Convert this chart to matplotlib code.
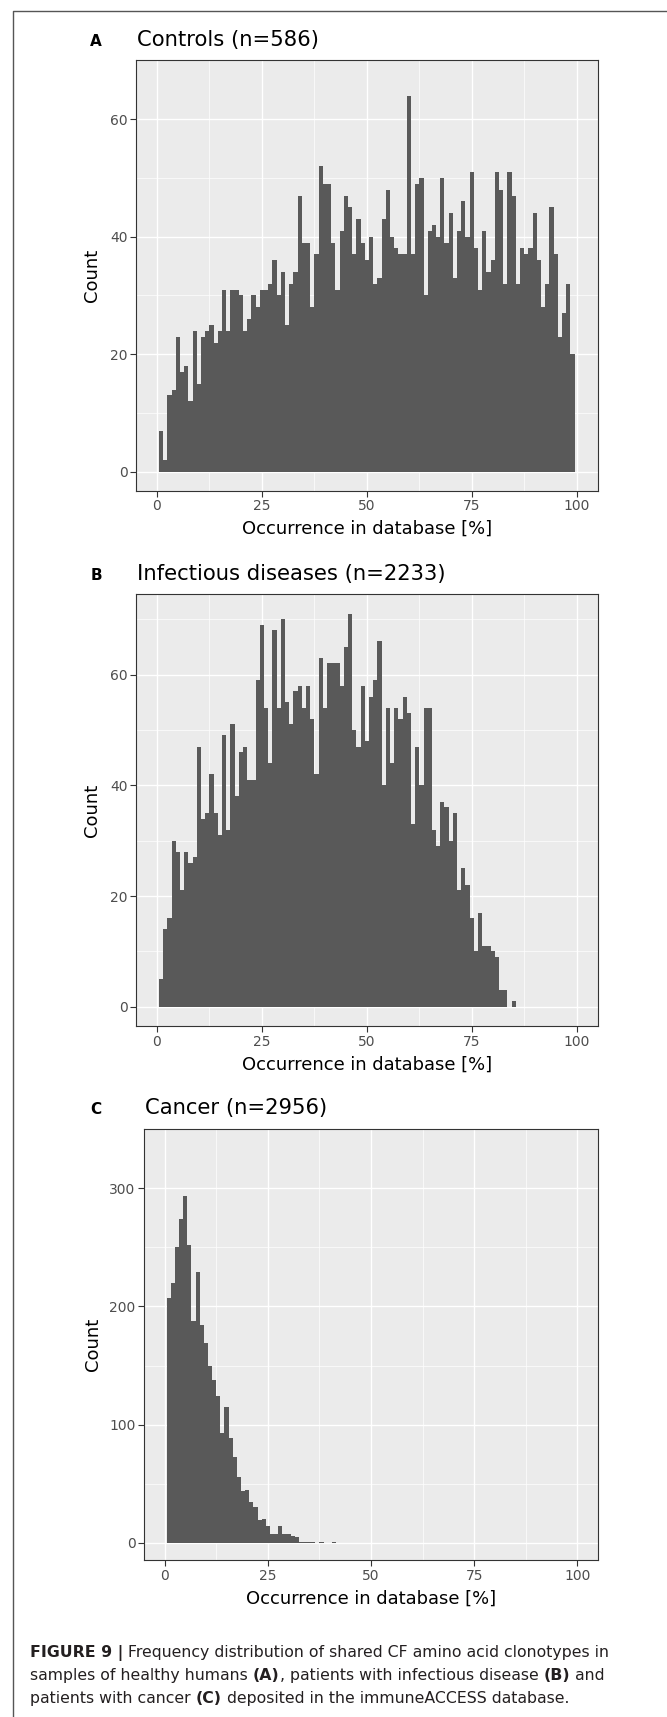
import numpy as np
import matplotlib
matplotlib.use("Agg")
import matplotlib.pyplot as plt
from matplotlib.lines import Line2D

# ---------------- data (counts per 1 % bin, bin centres 1, 2, 3, ...) ----------------
controls_counts = [7, 2, 13, 14, 23, 17, 18, 12, 24, 15,
                   23, 24, 25, 22, 24, 31, 24, 31, 31, 30,
                   24, 26, 30, 28, 31, 31, 32, 36, 30, 34,
                   25, 32, 34, 47, 39, 39, 28, 37, 52, 49,
                   49, 39, 31, 41, 47, 45, 37, 43, 39, 36,
                   40, 32, 33, 43, 48, 40, 38, 37, 37, 64,
                   37, 49, 50, 30, 41, 42, 40, 50, 39, 44,
                   33, 41, 46, 40, 51, 38, 31, 41, 34, 36,
                   51, 48, 32, 51, 47, 32, 38, 37, 38, 44,
                   36, 28, 32, 45, 37, 23, 27, 32, 20]
infect_counts = [5, 14, 16, 30, 28, 21, 28, 26, 27, 47,
                 34, 35, 42, 35, 31, 49, 32, 51, 38, 46,
                 47, 41, 41, 59, 69, 54, 44, 68, 54, 70,
                 55, 51, 57, 58, 54, 58, 52, 42, 63, 54,
                 62, 62, 62, 58, 65, 71, 50, 47, 58, 48,
                 56, 59, 66, 40, 54, 44, 54, 52, 56, 53,
                 33, 47, 40, 54, 54, 32, 29, 37, 36, 30,
                 35, 21, 25, 22, 16, 10, 17, 11, 11, 10,
                 9, 3, 3, 0, 1]
cancer_counts = [207, 220, 250, 274, 293, 252, 188, 229, 184, 169,
                 150, 138, 124, 93, 115, 89, 73, 56, 44, 45,
                 35, 30, 19, 20, 14, 8, 8, 14, 8, 8,
                 6, 5, 1, 1, 1, 1, 0, 1, 0, 0,
                 1]

panel_letters = ["A", "B", "C"]
panel_titles = ["Controls (n=586)", "Infectious diseases (n=2233)", "Cancer (n=2956)"]
y_ticks = [[0, 20, 40, 60], [0, 20, 40, 60], [0, 100, 200, 300]]
x_ticks = [0, 25, 50, 75, 100]
x_label = "Occurrence in database [%]"
y_label = "Count"

# ---------------- figure ----------------
W, H = 667, 1717
fig = plt.figure(figsize=(W / 100, H / 100), dpi=100)
fig.patch.set_facecolor("white")


def add_axes(l, t, r, b):
    return fig.add_axes([l / W, 1 - b / H, (r - l) / W, (b - t) / H])


# pixel boxes (left, top, right, bottom)
boxes = [(136, 60.3, 597.7, 490.7),
         (136, 594.0, 597.7, 1026.4),
         (144, 1129.0, 598.0, 1560.3)]
ylabel_x = [-0.096, -0.096, -0.112]
title_base = [46, 580, 1114]

all_counts = [controls_counts, infect_counts, cancer_counts]

for i, counts in enumerate(all_counts):
    l, t, r, b = boxes[i]
    ax = add_axes(l, t, r, b)
    ax.set_facecolor("#EBEBEB")
    counts = np.asarray(counts, dtype=float)
    centres = np.arange(1, len(counts) + 1)
    edges = np.append(centres - 0.5, centres[-1] + 0.5)
    ax.stairs(counts, edges, fill=True, color="#595959", baseline=0, linewidth=0)

    ymax = counts.max()
    ax.set_xlim(-5, 105)
    ax.set_ylim(-0.05 * ymax, 1.05 * ymax)

    ax.set_xticks(x_ticks)
    ax.set_xticks([12.5, 37.5, 62.5, 87.5], minor=True)
    yt = y_ticks[i]
    ax.set_yticks(yt)
    step = yt[1] - yt[0]
    ax.set_yticks([v + step / 2 for v in yt], minor=True)
    ax.grid(which="major", color="white", linewidth=1.0)
    ax.grid(which="minor", color="white", linewidth=0.5)
    ax.set_axisbelow(True)

    ax.tick_params(which="major", length=4, width=0.8, color="#333333",
                   labelcolor="#4D4D4D", labelsize=10, pad=2)
    ax.tick_params(which="minor", length=0)
    for s in ax.spines.values():
        s.set_color("#333333")
        s.set_linewidth(0.8)

    ax.set_xlabel(x_label, fontsize=12.9, color="black")
    ax.xaxis.label.set_va("center")
    ax.xaxis.set_label_coords(0.5, -38.5 / (b - t))
    ax.set_ylabel(y_label, fontsize=13.0, color="black")
    ax.yaxis.label.set_va("center")
    ax.yaxis.set_label_coords(ylabel_x[i], 0.5)

    # panel letter + title
    fig.text(96 / W, 1 - title_base[i] / H, panel_letters[i], fontsize=11,
             fontweight="bold", ha="center", va="baseline")
    fig.text((l + 1) / W, 1 - title_base[i] / H, panel_titles[i], fontsize=15.2,
             ha="left", va="baseline")

# frame line around figure (top + left)
fig.add_artist(Line2D([13 / W, 13 / W, 1.0], [0.0, 1 - 11 / H, 1 - 11 / H],
                      transform=fig.transFigure, color="#555555", linewidth=1.0))

# ---------------- caption ----------------
renderer = fig.canvas.get_renderer()


def seg_width(txt, bold, size):
    w = "bold" if bold else "normal"
    t1 = fig.text(0, 0, "|" + txt + "|", fontsize=size, fontweight=w)
    t2 = fig.text(0, 0, "||", fontsize=size, fontweight=w)
    wd = t1.get_window_extent(renderer).width - t2.get_window_extent(renderer).width
    t1.remove()
    t2.remove()
    return wd


caption_lines = [
    [("FIGURE 9 |", True), (" Frequency distribution of shared CF amino acid clonotypes in", False)],
    [("samples of healthy humans ", False), ("(A)", True),
     (", patients with infectious disease ", False), ("(B)", True), (" and", False)],
    [("patients with cancer ", False), ("(C)", True),
     (" deposited in the immuneACCESS database.", False)],
]
caption_base = [1657, 1680, 1703]

base_size = 10.0
w1 = sum(seg_width(s, bld, base_size) for s, bld in caption_lines[0])
cap_size = base_size * 579.0 / w1

for line, yb in zip(caption_lines, caption_base):
    x = 30.0
    for txt, bld in line:
        fig.text(x / W, 1 - yb / H, txt, fontsize=cap_size,
                 fontweight="bold" if bld else "normal",
                 ha="left", va="baseline", color="#231F20")
        x += seg_width(txt, bld, cap_size)

fig.savefig("out.png", dpi=100)
